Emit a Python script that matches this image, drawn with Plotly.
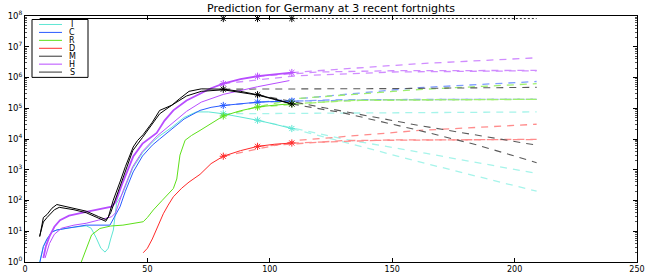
import plotly.graph_objects as go

# ---------------- data ----------------
labels = ["I", "C", "R", "D", "M", "H", "S"]
fortnight_ends = [81, 95, 109]

# fitted / observed trajectories (solid)
I_day = [6, 7.5, 9, 11, 13, 18, 25, 27, 29, 31, 32.7, 34, 35, 36.1, 37.4, 40, 44, 48, 52, 55, 60, 65, 70, 75, 81, 88, 95, 102, 109]
I_val = [1, 3.2, 5.6, 9.5, 11, 13, 15, 12.6, 6.3, 2.8, 2.1, 2.8, 5.6, 11, 81, 178, 1120, 3550, 7940, 12600, 24000, 50100, 75900, 75900, 66000, 52500, 40700, 30200, 21900]

C_day = [6.1, 7.5, 9, 11, 13, 18, 25, 34.7, 36, 38.8, 41, 44.2, 48, 52, 55, 59.2, 65, 71.5, 76, 81, 88, 95, 102, 109]
C_val = [1, 3.2, 5.6, 9.5, 11, 13, 15.8, 15.8, 25, 62, 200, 850, 2800, 6300, 10000, 19000, 44700, 85100, 107000, 123000, 141000, 158000, 166000, 170000]

R_day = [23, 25, 27.2, 30.6, 35, 40, 45.6, 48.3, 50, 52.4, 56, 60.6, 62, 63.3, 65.4, 68, 71.5, 75, 81, 88, 95, 102, 109]
R_val = [1, 2.5, 7.6, 12.3, 14.8, 15.8, 18.2, 20.4, 28, 49, 100, 245, 500, 3000, 9100, 13000, 19000, 28000, 56000, 83000, 110000, 126000, 141000]

D_day = [48.3, 50, 52, 54, 56.5, 58.5, 60.6, 64, 67, 71.5, 76, 81, 88, 95, 102, 109]
D_val = [2, 2.8, 5.6, 12.6, 37, 71, 132, 251, 398, 708, 1580, 2750, 4170, 5750, 6760, 7410]

M_day = [6, 7.5, 9, 11, 13, 16, 20, 25, 30, 33, 34, 36, 38.8, 41, 44.2, 46, 48.3, 52, 55, 60, 63, 67, 72, 81, 88, 95, 102, 109]
M_val = [6.6, 28, 35, 56, 74, 66, 56, 45, 30, 24, 28, 100, 400, 1260, 5500, 9000, 14000, 35000, 85000, 126000, 200000, 355000, 427000, 417000, 355000, 275000, 200000, 138000]
M2_day = [6, 7.5, 9, 12, 14, 20, 25, 30, 33, 35, 39, 44, 48, 55, 60, 66, 72, 81, 95, 109]
M2_val = [7, 20, 28, 50, 60, 50, 40, 26, 21, 40, 316, 4170, 11200, 66000, 126000, 251000, 355000, 398000, 269000, 138000]

H_day = [7.5, 8.5, 10, 12, 14.3, 18, 25, 30, 35.4, 37, 40, 44.2, 48, 53.8, 57, 60.6, 66, 71.5, 76, 81, 88, 95, 102, 109]
H_val = [1.35, 3.2, 6.8, 14, 23, 32, 43, 52, 63, 89, 398, 2690, 7080, 15800, 39800, 85100, 178000, 295000, 447000, 631000, 891000, 1100000, 1260000, 1450000]
H2_day = [8.2, 10, 12, 15, 20, 25, 30, 35.4, 37, 40, 44, 48, 54, 60, 66, 72, 81, 95, 108]
H2_val = [1.35, 4, 8, 12.6, 15.8, 18.2, 23, 29.5, 40, 200, 1260, 3980, 12600, 31600, 79400, 158000, 282000, 501000, 794000]

S_day = [6, 109]
S_val = [8.3e7, 8.28e7]

# predictions (dashed), one per fortnight, from the fortnight end to day 209
I_pred_day = [[81, 120, 209], [95, 130, 164, 209], [109, 164, 209]]
I_pred_val = [[66000, 69000, 75900], [40700, 10000, 3390, 760], [21900, 1580, 200]]
C_pred_day = [[81, 109, 161, 209], [95, 130, 209], [109, 150, 209]]
C_pred_val = [[123000, 200000, 468000, 741000], [158000, 191000, 195000], [170000, 191000, 195000]]
R_pred_day = [[81, 95, 112, 161, 209], [95, 130, 209], [109, 140, 209]]
R_pred_val = [[56000, 112000, 209000, 407000, 631000], [110000, 178000, 195000], [141000, 186000, 195000]]
D_pred_day = [[81, 112, 161, 209], [95, 130, 209], [109, 150, 209]]
D_pred_val = [[2750, 9100, 19000, 30200], [5750, 8900, 9770], [7410, 9330, 9550]]
M_pred_day = [[81, 110, 150, 209], [95, 120, 161, 209], [109, 130, 161, 185, 209]]
M_pred_val = [[417000, 417000, 436000, 479000], [275000, 112000, 27500, 6300], [138000, 70800, 19000, 6300, 1700]]
H_pred_day = [[81, 110, 150, 209], [95, 120, 150, 209], [109, 161, 209]]
H_pred_val = [[631000, 1120000, 1510000, 1660000], [1100000, 1510000, 1660000, 1700000], [1450000, 2820000, 4370000]]
S_pred_day = [[109, 209]]
S_pred_val = [[8.28e7, 8.27e7]]

# ---------------- styling ----------------
solid_col = {"I": "#5fe6d4", "C": "#2a5cff", "R": "#5ee01a", "D": "#ff2a2a",
             "M": "#000000", "H": "#b84dff", "S": "#000000"}
dash_col = {"I": "#a6f4ea", "C": "#7f9dff", "R": "#9fef6f", "D": "#ff8c8c",
            "M": "#5a5a5a", "H": "#d08cff", "S": "#333333"}
FONT = "DejaVu Sans, Liberation Sans, Arial"

fig = go.Figure()

def add_solid(name, days, vals, width=1.0, markers=True):
    fig.add_trace(go.Scatter(x=days, y=vals, mode="lines", showlegend=False,
                             line=dict(color=solid_col[name], width=width)))
    if markers:
        mx = [d for d in fortnight_ends if d <= days[-1] + 0.5]
        my = []
        for d in mx:
            best = min(range(len(days)), key=lambda k: abs(days[k] - d))
            my.append(vals[best])
        fig.add_trace(go.Scatter(x=mx, y=my, mode="markers", showlegend=False,
                                 marker=dict(symbol="asterisk-open", size=6, color=solid_col[name],
                                             line=dict(color=solid_col[name], width=1))))

def add_preds(name, pdays, pvals, dash="7px,6px", width=1.3):
    for d, v in zip(pdays, pvals):
        fig.add_trace(go.Scatter(x=d, y=v, mode="lines", showlegend=False,
                                 line=dict(color=dash_col[name], width=width, dash=dash)))

# predictions first (underneath)
add_preds("I", I_pred_day, I_pred_val)
add_preds("C", C_pred_day, C_pred_val)
add_preds("R", R_pred_day, R_pred_val)
add_preds("D", D_pred_day, D_pred_val)
add_preds("M", M_pred_day, M_pred_val, width=1.1)
add_preds("H", H_pred_day, H_pred_val)
add_preds("S", S_pred_day, S_pred_val, dash="2px,2px", width=1)

add_solid("I", I_day, I_val)
add_solid("C", C_day, C_val)
add_solid("R", R_day, R_val)
add_solid("D", D_day, D_val)
add_solid("H", H2_day, H2_val, width=1.0, markers=False)
add_solid("H", H_day, H_val, width=1.8)
add_solid("M", M2_day, M2_val, width=1.0, markers=False)
add_solid("M", M_day, M_val, width=1.0)
add_solid("S", S_day, S_val, width=1.2)

# ---------------- legend box drawn by hand (MATLAB style) ----------------
PX0, PX1, PY0, PY1 = 25, 637, 15.5, 262
def px(x):
    return (x - PX0) / (PX1 - PX0)
def py(y):
    return (PY1 - y) / (PY1 - PY0)

shapes = [dict(type="rect", xref="paper", yref="paper", x0=px(32), x1=px(88),
               y0=py(77), y1=py(19), line=dict(color="black", width=1),
               fillcolor="white", layer="above")]
annotations = []
for i, lab in enumerate(labels):
    yy = 24 + 7.95 * i
    shapes.append(dict(type="line", xref="paper", yref="paper", x0=px(39), x1=px(62),
                       y0=py(yy), y1=py(yy), layer="above",
                       line=dict(color=solid_col[lab] if lab not in ("M", "S") else "#333333", width=1)))
    annotations.append(dict(text=lab, xref="paper", yref="paper", x=px(72), y=py(yy),
                            xanchor="center", yanchor="middle", showarrow=False,
                            font=dict(size=8, color="black", family=FONT)))

ytickvals = [10 ** k for k in range(0, 9)]
yticktext = ["10<sup>%d</sup>" % k for k in range(0, 9)]
yminor = [m * 10 ** k for k in range(0, 8) for m in range(2, 10)]

fig.update_layout(
    width=654, height=273,
    margin=dict(l=PX0, r=654 - PX1, t=PY0, b=273 - PY1, autoexpand=False),
    paper_bgcolor="white", plot_bgcolor="white",
    font=dict(family=FONT, size=8, color="black"),
    title=dict(text="Prediction for Germany at 3 recent fortnights", x=0.5, xref="paper",
               xanchor="center", y=1 - 8 / 273, yanchor="middle",
               font=dict(size=11, color="black", family=FONT)),
    showlegend=False,
    shapes=shapes, annotations=annotations,
    xaxis=dict(range=[0, 250], tickvals=[0, 50, 100, 150, 200, 250], ticks="inside",
               ticklen=4, tickcolor="black", showline=True, linecolor="black", linewidth=1,
               mirror="allticks", showgrid=False, zeroline=False, automargin=False,
               tickfont=dict(size=8), ticklabelstandoff=-1),
    yaxis=dict(type="log", range=[0, 8], tickmode="array", tickvals=ytickvals, ticktext=yticktext,
               ticks="inside", ticklen=4, tickcolor="black", showline=True, linecolor="black",
               linewidth=1, mirror="allticks", showgrid=False, zeroline=False, automargin=False,
               tickfont=dict(size=8.5), ticklabelstandoff=0,
               minor=dict(tickmode="array", tickvals=yminor, ticks="inside", ticklen=2,
                          tickcolor="#555555", showgrid=False)),
)

fig.write_html("out.html", config={"displayModeBar": False, "staticPlot": True})

# remove the browser's default 8px page margin so the figure sits at the window's corner
with open("out.html", "r", encoding="utf-8") as fh:
    html = fh.read()
html = html.replace("<body>", '<body style="margin:0;padding:0;overflow:hidden">', 1)
with open("out.html", "w", encoding="utf-8") as fh:
    fh.write(html)
